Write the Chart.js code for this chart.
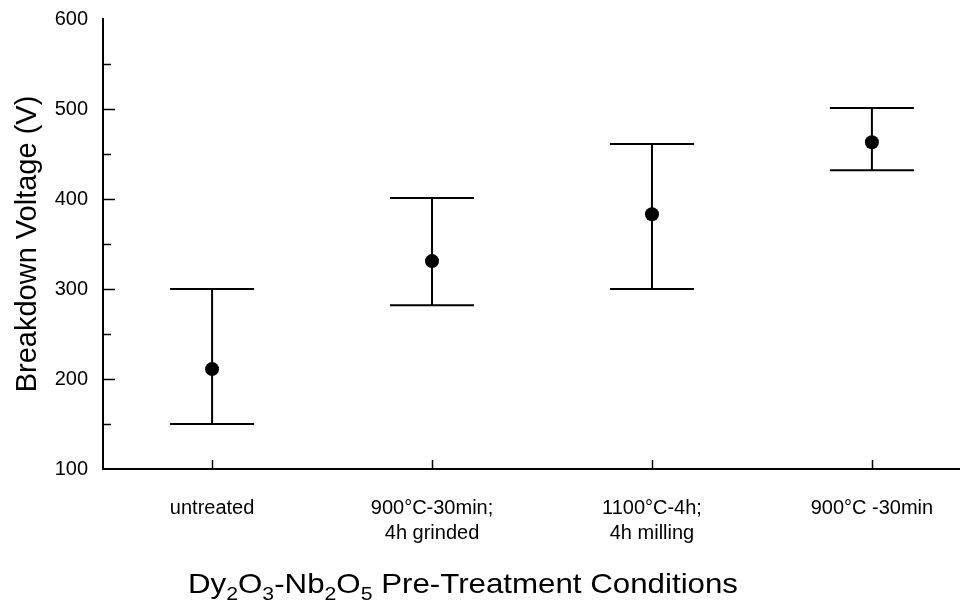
<!DOCTYPE html>
<html>
<head>
<meta charset="utf-8">
<script src="https://cdn.jsdelivr.net/npm/chart.js@4/dist/chart.umd.min.js"></script>
<style>
  html, body { margin: 0; padding: 0; background: #fff; }
</style>
</head>
<body>
<canvas id="chart" width="966" height="607"></canvas>
<script>
// Breakdown voltage per pre-treatment condition (mean with min/max range)
const categories = [
  ['untreated'],
  ['900°C-30min;', '4h grinded'],
  ['1100°C-4h;', '4h milling'],
  ['900°C -30min']
];
const meanVoltage = [211, 331, 383, 463];
const lowVoltage = [150, 282, 300, 432];
const highVoltage = [300, 401, 461, 501];
const yMajorTicks = [100, 200, 300, 400, 500, 600];
const yMinorTicks = [150, 250, 350, 450, 550];

const FONT = "'Liberation Sans', Arial, Helvetica, sans-serif";

// whiskers + caps, drawn under the dots
const errorBars = {
  id: 'errorBars',
  beforeDatasetsDraw(chart) {
    const { ctx, scales: { x, y } } = chart;
    const capHalf = 42;
    ctx.save();
    ctx.strokeStyle = '#000';
    ctx.lineWidth = 2;
    meanVoltage.forEach((m, i) => {
      const px = x.getPixelForValue(i);
      const top = y.getPixelForValue(highVoltage[i]);
      const bot = y.getPixelForValue(lowVoltage[i]);
      ctx.beginPath();
      ctx.moveTo(px, top); ctx.lineTo(px, bot);
      ctx.moveTo(px - capHalf, top); ctx.lineTo(px + capHalf, top);
      ctx.moveTo(px - capHalf, bot); ctx.lineTo(px + capHalf, bot);
      ctx.stroke();
    });
    ctx.restore();
  }
};

// tick marks pointing into the plot
const innerTicks = {
  id: 'innerTicks',
  afterDraw(chart) {
    const { ctx, chartArea: area, scales: { x, y } } = chart;
    ctx.save();
    ctx.strokeStyle = '#000';
    ctx.lineWidth = 1.5;
    ctx.beginPath();
    yMajorTicks.filter(v => v > y.min && v < y.max).forEach(v => {
      const py = Math.round(y.getPixelForValue(v)) + 0.5;
      ctx.moveTo(area.left, py); ctx.lineTo(area.left + 12, py);
    });
    yMinorTicks.forEach(v => {
      const py = Math.round(y.getPixelForValue(v)) + 0.5;
      ctx.moveTo(area.left, py); ctx.lineTo(area.left + 8, py);
    });
    categories.forEach((c, i) => {
      const px = Math.round(x.getPixelForValue(i)) + 0.5;
      ctx.moveTo(px, area.bottom); ctx.lineTo(px, area.bottom - 9);
    });
    ctx.stroke();
    ctx.restore();
  }
};

// x axis title with subscripts (stretched a little to the reference width)
const xTitle = {
  id: 'xTitle',
  afterDraw(chart) {
    const { ctx } = chart;
    const parts = [
      ['Dy', 0], ['2', 1], ['O', 0], ['3', 1], ['-Nb', 0], ['2', 1], ['O', 0], ['5', 1],
      [' Pre-Treatment Conditions', 0]
    ];
    const mainFont = '28px ' + FONT;
    const subFont = '19px ' + FONT;
    const targetWidth = 550;
    ctx.save();
    ctx.fillStyle = '#000';
    ctx.textBaseline = 'alphabetic';
    let total = 0;
    parts.forEach(([t, sub]) => {
      ctx.font = sub ? subFont : mainFont;
      total += ctx.measureText(t).width;
    });
    const sx = targetWidth / total;
    ctx.translate(463 - targetWidth / 2, 593);
    ctx.scale(sx, 1);
    let cx = 0;
    parts.forEach(([t, sub]) => {
      ctx.font = sub ? subFont : mainFont;
      ctx.fillText(t, cx, sub ? 7 : 0);
      cx += ctx.measureText(t).width;
    });
    ctx.restore();
  }
};

new Chart(document.getElementById('chart'), {
  type: 'scatter',
  data: {
    datasets: [{
      data: meanVoltage.map((v, i) => ({ x: i, y: v })),
      backgroundColor: '#000',
      borderWidth: 0,
      pointRadius: 7,
      pointHoverRadius: 7
    }]
  },
  options: {
    responsive: false,
    animation: false,
    layout: { padding: { top: 18, right: 0, left: 0, bottom: 0 } },
    plugins: { legend: { display: false }, tooltip: { enabled: false } },
    scales: {
      x: {
        type: 'linear',
        min: -0.496,
        max: 3.396,
        afterBuildTicks(scale) {
          scale.ticks = categories.map((c, i) => ({ value: i }));
        },
        afterFit(scale) { scale.height = 138; },
        grid: { display: false },
        border: { display: true, color: '#000', width: 2 },
        ticks: {
          color: '#000',
          padding: 19,
          font: { family: FONT, size: 20, lineHeight: 1.25 },
          callback: (v) => categories[v]
        }
      },
      y: {
        min: 100,
        max: 600,
        afterBuildTicks(scale) {
          scale.ticks = yMajorTicks.map(v => ({ value: v }));
        },
        afterFit(scale) { scale.width = 103; },
        grid: { display: false },
        border: { display: true, color: '#000', width: 2 },
        ticks: {
          color: '#000',
          padding: 7,
          font: { family: FONT, size: 20 }
        },
        title: {
          display: true,
          text: 'Breakdown Voltage (V)',
          color: '#000',
          font: { family: FONT, size: 29 },
          padding: { top: 11, bottom: 0 }
        }
      }
    }
  },
  plugins: [errorBars, innerTicks, xTitle]
});
</script>
</body>
</html>
